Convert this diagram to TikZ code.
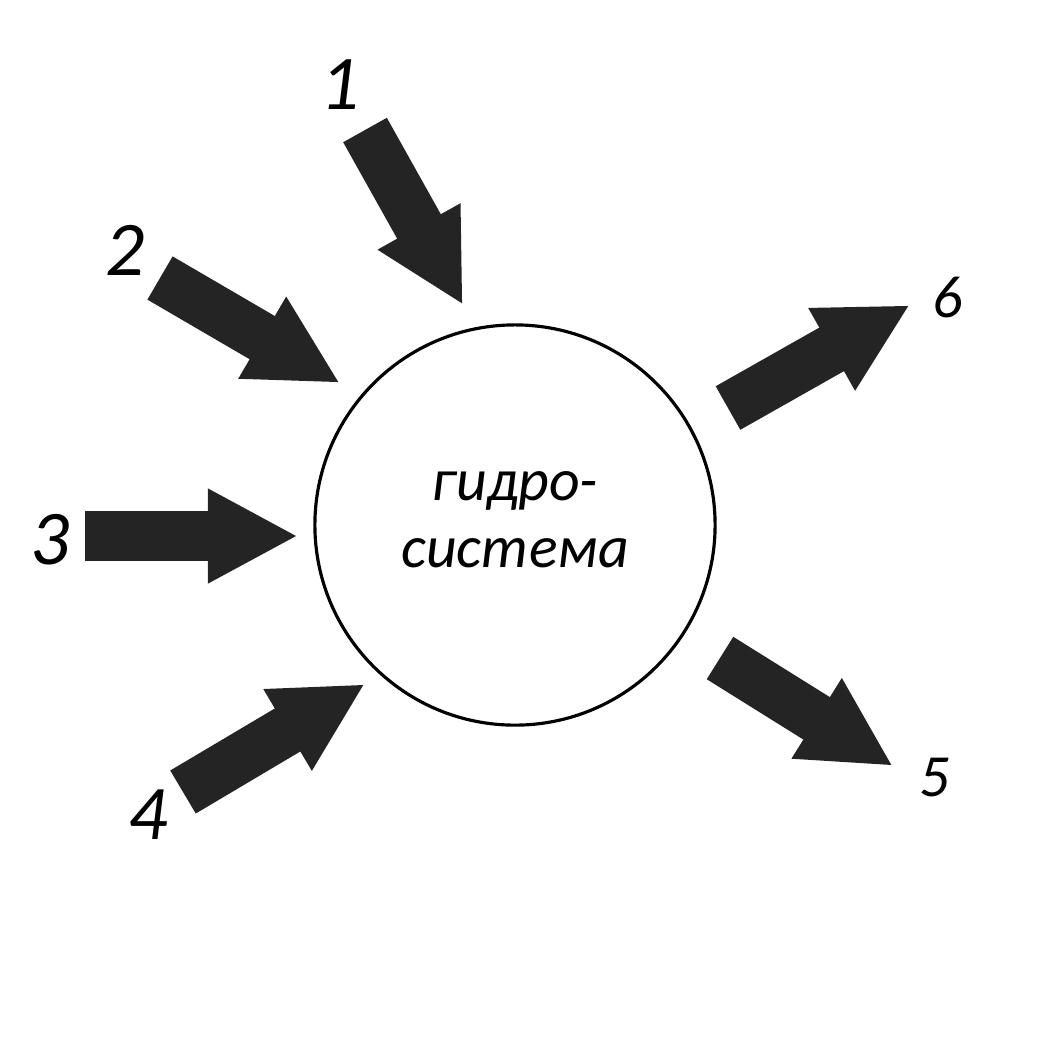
\documentclass[tikz,border=0pt]{standalone}
\usepackage{fontspec}
\setmainfont{Carlito}
\usetikzlibrary{arrows.meta}
\tikzset{
    flow/.style={
        draw=black!86,
        line width=0.5cm,
        -{Triangle[length=0.9cm,width=0.88cm]},
        shorten >=0pt
    },
    num/.style={font=\itshape\fontsize{22}{22}\selectfont},
    smallnum/.style={font=\itshape\fontsize{17}{17}\selectfont}
}

\begin{document}
\begin{tikzpicture}[x=0.01cm,y=-0.01cm]
    \useasboundingbox (0,0) rectangle (1060,1050);
    \node[circle,draw,line width=0.9pt,minimum size=4cm] at (515,525) (hs) {};
    \node[align=center,font=\itshape\fontsize{17}{19}\selectfont]
        at (515,520) (hstext) {гидро-\\система};
    % inflows
    \coordinate (t1) at (365,130);  \coordinate (h1) at (463,305);
    \coordinate (t2) at (160,278);  \coordinate (h2) at (340,383);
    \coordinate (t3) at (85,536);   \coordinate (h3) at (298,536);
    \coordinate (t4) at (183,792);  \coordinate (h4) at (365,684);
    % outflows
    \coordinate (t5) at (720,658);  \coordinate (h5) at (893,766);
    \coordinate (t6) at (728,408);  \coordinate (h6) at (910,305);
    \foreach \i in {1,...,6}
        \draw[flow] (t\i) -- (h\i);
    \node[num] at (340,85) (n1) {1};
    \node[num] at (125,250) (n2) {2};
    \node[num] at (50,540) (n3) {3};
    \node[num] at (148,815) (n4) {4};
    \node[smallnum] at (935,778) (n5) {5};
    \node[smallnum] at (948,298) (n6) {6};
\end{tikzpicture}
\end{document}
